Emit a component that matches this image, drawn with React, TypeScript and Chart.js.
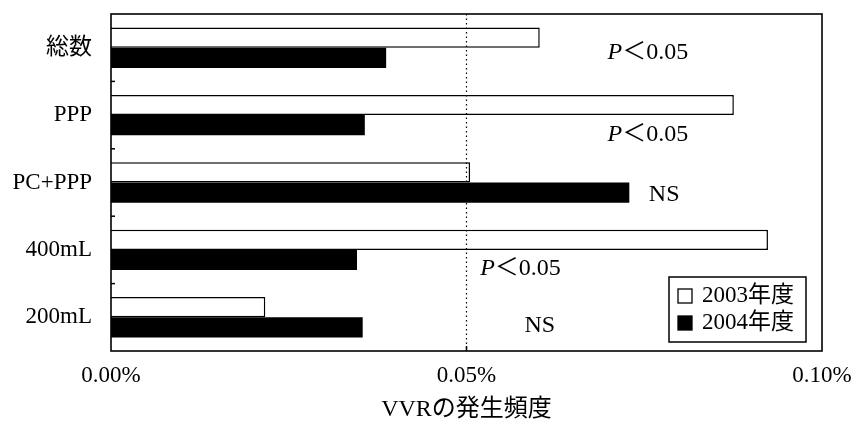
import { useEffect, useRef } from 'react';
import { Chart, registerables } from 'chart.js';

Chart.register(...registerables);

// ---- data ----
const categories = ['総数', 'PPP', 'PC+PPP', '400mL', '200mL'];
const seriesLabels = ['2003年度', '2004年度'];
const values2003 = [0.0603, 0.0876, 0.0505, 0.0924, 0.0217];
const values2004 = [0.0387, 0.0357, 0.0729, 0.0346, 0.0354];
const xTickValues = [0, 0.05, 0.1];
const axisTitle = 'VVRの発生頻度';
const significance = ['P＜0.05', 'P＜0.05', 'NS', 'P＜0.05', 'NS'];

// annotation placement (value space on x, pixel offset from category centre on y)
const annotX = [0.0755, 0.0755, 0.0778, 0.0576, 0.0603];
const annotDy = [5, 20, 12, 19, 8];

const SERIF = '"Liberation Serif", "Times New Roman", "Noto Sans CJK JP", serif';

const framePlugin = {
  id: 'framePlugin',
  afterDraw(chart: any) {
    const { ctx, chartArea: a, scales } = chart;
    const x = scales.x;
    const y = scales.y;
    ctx.save();
    // dotted reference line at 0.05%
    const xm = x.getPixelForValue(0.05);
    ctx.strokeStyle = '#000';
    ctx.lineWidth = 1.2;
    ctx.setLineDash([1.5, 3]);
    ctx.beginPath();
    ctx.moveTo(xm, a.top);
    ctx.lineTo(xm, a.bottom);
    ctx.stroke();
    ctx.setLineDash([]);
    // small tick at bottom
    ctx.lineWidth = 1.5;
    ctx.beginPath();
    ctx.moveTo(xm, a.bottom);
    ctx.lineTo(xm, a.bottom - 5);
    ctx.stroke();
    // frame
    ctx.lineWidth = 1.6;
    ctx.strokeRect(a.left, a.top, a.right - a.left, a.bottom - a.top);
    // y category boundary ticks
    ctx.lineWidth = 1.5;
    for (let i = 1; i < categories.length; i++) {
      const p = (y.getPixelForValue(i - 1) + y.getPixelForValue(i)) / 2;
      ctx.beginPath();
      ctx.moveTo(a.left, p);
      ctx.lineTo(a.left + 4, p);
      ctx.stroke();
    }
    // significance annotations
    ctx.fillStyle = '#000';
    ctx.textBaseline = 'middle';
    ctx.textAlign = 'left';
    significance.forEach((txt, i) => {
      const cx = x.getPixelForValue(annotX[i]);
      const cy = y.getPixelForValue(i) + annotDy[i];
      if (txt.startsWith('P')) {
        const italic = `italic 24px ${SERIF}`;
        const normal = `24px ${SERIF}`;
        ctx.font = italic;
        const w1 = ctx.measureText('P').width;
        ctx.font = normal;
        const rest = txt.slice(1);
        const w2 = ctx.measureText(rest).width;
        const start = cx - (w1 + w2) / 2;
        ctx.font = italic;
        ctx.fillText('P', start, cy);
        ctx.font = normal;
        ctx.fillText(rest, start + w1, cy);
      } else {
        ctx.font = `24px ${SERIF}`;
        ctx.textAlign = 'center';
        ctx.fillText(txt, cx, cy);
        ctx.textAlign = 'left';
      }
    });
    // legend box
    const lw = 137;
    const lh = 65;
    const lx = a.right - 16 - lw;
    const ly = a.bottom - 9 - lh;
    ctx.fillStyle = '#fff';
    ctx.fillRect(lx, ly, lw, lh);
    ctx.lineWidth = 1.5;
    ctx.strokeStyle = '#000';
    ctx.strokeRect(lx, ly, lw, lh);
    ctx.font = `23px ${SERIF}`;
    ctx.textBaseline = 'middle';
    chart.data.datasets.forEach((ds: any, i: number) => {
      const rowY = ly + 19 + i * 27;
      const sx = lx + 9;
      const s = 14;
      ctx.fillStyle = ds.backgroundColor;
      ctx.fillRect(sx, rowY - s / 2, s, s);
      ctx.strokeStyle = '#000';
      ctx.lineWidth = 1.3;
      ctx.strokeRect(sx, rowY - s / 2, s, s);
      ctx.fillStyle = '#000';
      ctx.fillText(ds.label, sx + s + 10, rowY);
    });
    ctx.restore();
  },
};

export default function App() {
  const ref = useRef<HTMLCanvasElement | null>(null);

  useEffect(() => {
    if (!ref.current) return;
    const chart = new Chart(ref.current, {
      type: 'bar',
      data: {
        labels: categories,
        datasets: [
          {
            label: seriesLabels[0],
            data: values2003,
            backgroundColor: '#ffffff',
            borderColor: '#000000',
            borderWidth: 1.5,
            borderSkipped: 'left',
            categoryPercentage: 0.6,
            barPercentage: 1.0,
          },
          {
            label: seriesLabels[1],
            data: values2004,
            backgroundColor: '#000000',
            borderColor: '#000000',
            borderWidth: 0,
            categoryPercentage: 0.6,
            barPercentage: 1.0,
          },
        ],
      },
      options: {
        indexAxis: 'y',
        responsive: false,
        animation: false,
        layout: { padding: { top: 14, right: 39, left: 0, bottom: 0 } },
        plugins: {
          legend: { display: false },
          tooltip: { enabled: false },
        },
        scales: {
          x: {
            type: 'linear',
            min: 0,
            max: 0.1,
            afterBuildTicks: (scale: any) => {
              scale.ticks = xTickValues.map((v) => ({ value: v }));
            },
            afterFit: (scale: any) => {
              scale.height = 74;
              scale.paddingLeft = 0;
              scale.paddingRight = 0;
            },
            grid: { display: false, drawTicks: false },
            border: { display: false },
            ticks: {
              color: '#000',
              font: { family: SERIF, size: 23 },
              padding: 11,
              maxRotation: 0,
              callback: (v: any) => Number(v).toFixed(2) + '%',
            },
            title: {
              display: true,
              text: axisTitle,
              color: '#000',
              font: { family: SERIF, size: 24 },
              padding: { top: 0, bottom: 1 },
            },
          },
          y: {
            afterFit: (scale: any) => {
              scale.width = 111;
              scale.paddingTop = 0;
              scale.paddingBottom = 0;
            },
            grid: { display: false, drawTicks: false },
            border: { display: false },
            ticks: {
              color: '#000',
              font: { family: SERIF, size: 23 },
              padding: 19,
            },
          },
        },
      },
      plugins: [framePlugin],
    } as any);
    return () => chart.destroy();
  }, []);

  return (
    <div style={{ position: 'absolute', left: 0, top: 0, width: 861, height: 425, background: '#fff' }}>
      <canvas ref={ref} width={861} height={425} />
    </div>
  );
}
